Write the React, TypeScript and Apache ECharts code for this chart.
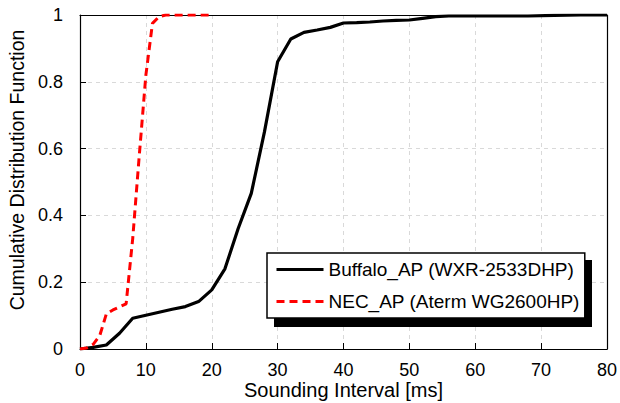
import React, { useEffect, useRef } from "react";
import * as echarts from "echarts";

const buffaloX = [0, 2, 4, 6, 8, 10, 12, 14, 16, 18, 20, 22, 24, 26, 28, 30, 32, 34, 36, 38, 40, 42, 44, 46, 48, 50, 52, 54, 56, 60, 64, 68, 72, 76, 80];
const buffaloY = [0, 0.005, 0.012, 0.047, 0.092, 0.101, 0.11, 0.119, 0.127, 0.142, 0.177, 0.24, 0.36, 0.466, 0.65, 0.86, 0.928, 0.948, 0.955, 0.963, 0.976, 0.977, 0.979, 0.982, 0.984, 0.985, 0.99, 0.995, 0.997, 0.997, 0.997, 0.997, 0.999, 1, 1];

const necX = [0, 1, 2, 3, 4, 5, 6, 7, 8, 9, 10, 11, 12, 13, 14, 15, 16, 17, 18, 19, 20];
const necY = [0, 0.003, 0.014, 0.04, 0.105, 0.117, 0.126, 0.135, 0.33, 0.58, 0.82, 0.975, 0.995, 1, 1, 1, 1, 1, 1, 1, 1];

const seriesNames = ["Buffalo_AP (WXR-2533DHP)", "NEC_AP (Aterm WG2600HP)"];
const xTitle = "Sounding Interval [ms]";
const yTitle = "Cumulative Distribution Function";

const FONT = "Liberation Sans, Arial, sans-serif";

export default function App() {
  const ref = useRef<HTMLDivElement>(null);
  useEffect(() => {
    if (!ref.current) return;
    const chart = echarts.init(ref.current, null, { renderer: "svg" });
    const legendLeft = 267;
    const legendTop = 253;
    const legendW = 318;
    const legendH = 67;
    const borderAxis = {
      show: true,
      axisLine: { show: true, onZero: false, lineStyle: { color: "#000", width: 1.2 } },
      axisTick: { show: false },
      axisLabel: { show: false },
      splitLine: { show: false },
    };
    chart.setOption({
      animation: false,
      backgroundColor: "#fff",
      textStyle: { fontFamily: FONT },
      grid: {
        left: 80,
        right: 13,
        top: 15,
        bottom: 54,
        show: false,
        containLabel: false,
        outerBoundsMode: "none",
      },
      xAxis: [
        {
          type: "value",
          min: 0,
          max: 80,
          interval: 10,
          name: xTitle,
          nameLocation: "middle",
          nameGap: 31,
          nameMoveOverlap: false,
          nameTextStyle: { fontSize: 20, color: "#000", fontFamily: FONT },
          axisLine: { show: true, lineStyle: { color: "#000", width: 1.2 } },
          axisTick: { show: true, inside: true, length: 6, lineStyle: { color: "#000" } },
          axisLabel: { fontSize: 18, color: "#000", margin: 12, fontFamily: FONT },
          splitLine: { show: true, lineStyle: { color: "#d9d9d9", type: [4, 4], width: 1 } },
        },
        { type: "value", min: 0, max: 80, position: "top", ...borderAxis },
      ],
      yAxis: [
        {
          type: "value",
          min: 0,
          max: 1,
          interval: 0.2,
          name: yTitle,
          nameLocation: "middle",
          nameGap: 53,
          nameMoveOverlap: false,
          nameTextStyle: { fontSize: 19.5, color: "#000", fontFamily: FONT, padding: [0, 0, 0, 24] },
          axisLine: { show: true, lineStyle: { color: "#000", width: 1.2 } },
          axisTick: { show: true, inside: true, length: 6, lineStyle: { color: "#000" } },
          axisLabel: { fontSize: 18, color: "#000", margin: 17, fontFamily: FONT },
          splitLine: { show: true, lineStyle: { color: "#d9d9d9", type: [4, 4], width: 1 } },
        },
        { type: "value", min: 0, max: 1, position: "right", ...borderAxis },
      ],
      legend: {
        orient: "vertical",
        left: legendLeft,
        top: legendTop,
        padding: [7, 5, 7, 8],
        itemWidth: 47,
        itemHeight: 14,
        itemGap: 13,
        backgroundColor: "#fff",
        borderColor: "#000",
        borderWidth: 1.5,
        borderRadius: 0,
        z: 10,
        itemStyle: { opacity: 0 },
        lineStyle: { width: 3 },
        textStyle: { fontSize: 19, color: "#000", fontFamily: FONT },
        data: seriesNames,
      },
      graphic: [
        {
          type: "rect",
          z: 9,
          shape: { x: legendLeft + 7, y: legendTop + 7, width: legendW, height: legendH },
          style: { fill: "#000" },
        },
      ],
      series: [
        {
          name: seriesNames[0],
          type: "line",
          symbol: "none",
          data: buffaloX.map((x, i) => [x, buffaloY[i]]),
          lineStyle: { color: "#000", width: 3.2 },
          itemStyle: { color: "#000" },
          z: 3,
        },
        {
          name: seriesNames[1],
          type: "line",
          symbol: "none",
          data: necX.map((x, i) => [x, necY[i]]),
          lineStyle: { color: "#ff0000", width: 3, type: [8, 5] },
          itemStyle: { color: "#ff0000" },
          z: 4,
        },
      ],
    });
    return () => chart.dispose();
  }, []);
  return (
    <div
      ref={ref}
      style={{ position: "fixed", left: 0, top: 0, width: 620, height: 403, background: "#fff" }}
    />
  );
}
